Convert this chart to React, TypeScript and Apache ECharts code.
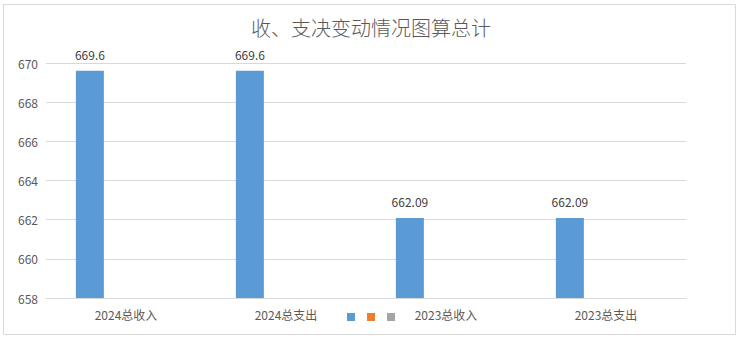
import React, { useEffect, useRef } from "react";
import * as echarts from "echarts";

const categories = ["2024总收入", "2024总支出", "2023总收入", "2023总支出"];
const series1Values = [669.6, 669.6, 662.09, 662.09];
const series2Values: (number | null)[] = [null, null, null, null];
const series3Values: (number | null)[] = [null, null, null, null];
const seriesNames = ["系列1", "系列2", "系列3"];
const seriesColors = ["#5b9bd5", "#ed7d31", "#a5a5a5"];
const titleText = "收、支决变动情况图算总计";
const yMin = 658;
const yMax = 670;
const yInterval = 2;

const FONT = '"Noto Sans CJK SC", "Microsoft YaHei", sans-serif';

export default function App() {
  const ref = useRef<HTMLDivElement>(null);
  useEffect(() => {
    if (!ref.current) return;
    const chart = echarts.init(ref.current, null, { renderer: "svg" });
    const dataSets = [series1Values, series2Values, series3Values];
    chart.setOption({
      animation: false,
      textStyle: { fontFamily: FONT },
      title: {
        text: titleText,
        left: "center",
        top: 12,
        textStyle: { fontSize: 20, fontWeight: 300, color: "#595959", fontFamily: FONT },
      },
      graphic: [
        {
          type: "rect",
          shape: { x: 3.5, y: 4.5, width: 732, height: 330 },
          style: { fill: "none", stroke: "#d9d9d9", lineWidth: 1 },
          silent: true,
          z: -1,
        },
      ],
      legend: {
        data: seriesNames,
        bottom: 16,
        left: 342,
        itemWidth: 8,
        itemHeight: 8,
        itemGap: 12,
        icon: "rect",
        formatter: () => "",
        textStyle: { fontSize: 1, padding: 0 },
        selectedMode: false,
      },
      grid: { left: 46, right: 56, top: 63, bottom: 44, containLabel: false },
      xAxis: {
        type: "category",
        data: categories,
        axisLine: { lineStyle: { color: "#d9d9d9" } },
        axisTick: { show: false },
        axisLabel: { color: "#595959", fontSize: 12, margin: 10, fontFamily: FONT },
      },
      yAxis: {
        type: "value",
        min: yMin,
        max: yMax,
        interval: yInterval,
        axisLine: { show: false },
        axisTick: { show: false },
        axisLabel: { color: "#595959", fontSize: 12, margin: 8, fontFamily: FONT },
        splitLine: { lineStyle: { color: "#d9d9d9" } },
      },
      series: seriesNames.map((name, i) => ({
        name,
        type: "bar",
        data: dataSets[i],
        barWidth: 28,
        barGap: "29%",
        barCategoryGap: "37.5%",
        itemStyle: { color: seriesColors[i] },
        label: {
          show: i === 0,
          position: "top",
          distance: 10,
          color: "#404040",
          fontSize: 12,
          fontFamily: FONT,
        },
      })),
    });
    return () => chart.dispose();
  }, []);
  return (
    <div
      ref={ref}
      style={{ position: "absolute", left: 0, top: 0, width: 742, height: 342, background: "#fff" }}
    />
  );
}
